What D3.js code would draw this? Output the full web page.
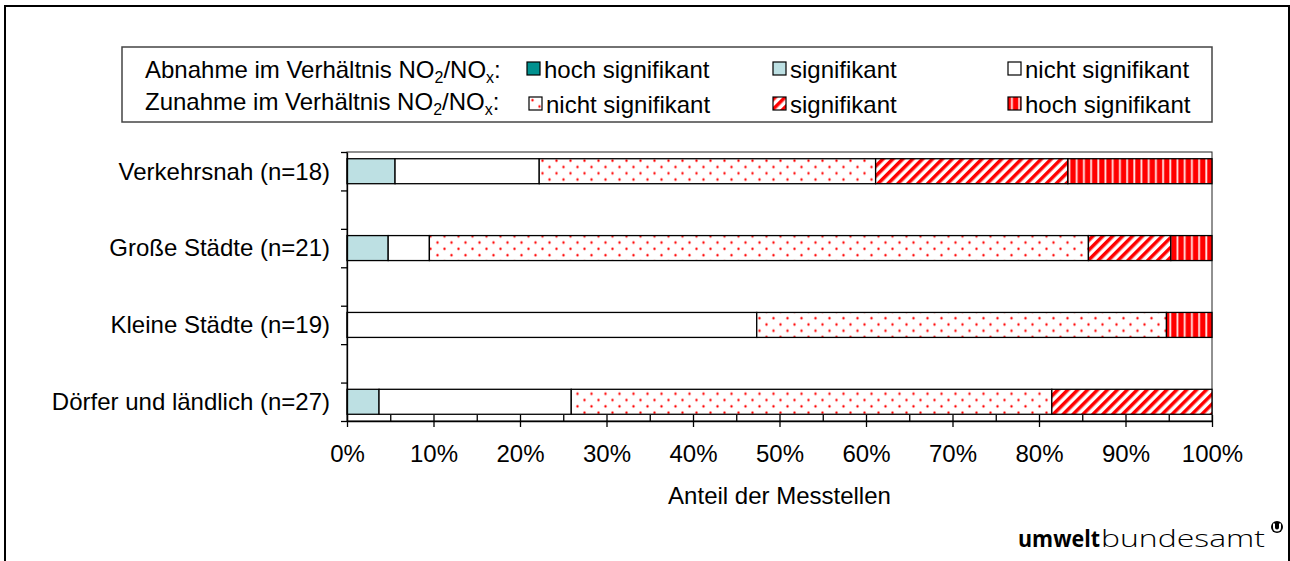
<!DOCTYPE html>
<html>
<head>
<meta charset="utf-8">
<script src="https://cdn.jsdelivr.net/npm/d3@7"></script>
<style>
    body { margin: 0; background: #fff; }
    svg text { font-family: "Liberation Sans", Arial, sans-serif; fill: #000; }
</style>
</head>
<body>
<svg id="chart" width="1290" height="561"></svg>
<script>
// Messstellen je Klasse, Reihenfolge wie in der Legende
const categories = ["Verkehrsnah (n=18)", "Große Städte (n=21)", "Kleine Städte (n=19)", "Dörfer und ländlich (n=27)"];
const abnahmeHoch = [0, 0, 0, 0];
const abnahmeSig = [1, 1, 0, 1];
const abnahmeNicht = [3, 1, 9, 6];
const zunahmeNicht = [7, 16, 9, 15];
const zunahmeSig = [4, 2, 0, 5];
const zunahmeHoch = [3, 1, 1, 0];
const keys = ["abnahmeHoch", "abnahmeSig", "abnahmeNicht", "zunahmeNicht", "zunahmeSig", "zunahmeHoch"];
const legendLabels = ["hoch signifikant", "signifikant", "nicht signifikant", "nicht signifikant", "signifikant", "hoch signifikant"];
const xTickValues = [0, 10, 20, 30, 40, 50, 60, 70, 80, 90, 100];
const xMinorTicks = [5, 15, 25, 35, 45, 55, 65, 75, 85, 95];

let svg = d3.select("#chart");
let plotLeft = 347, plotRight = 1212, plotTop = 152, plotBottom = 421;
let fontSize = 24;

// patterns
let defs = svg.append("defs");
let dots = defs.append("pattern").attr("id", "dots").attr("patternUnits", "userSpaceOnUse")
    .attr("width", 14).attr("height", 12.6);
dots.append("rect").attr("width", 14).attr("height", 12.6).attr("fill", "#fff");
[[3.5, 3.15], [10.5, 9.45]].forEach(p => {
    dots.append("circle").attr("cx", p[0]).attr("cy", p[1]).attr("r", 1.6).attr("fill", "#ffa0a0");
    dots.append("circle").attr("cx", p[0]).attr("cy", p[1]).attr("r", 0.9).attr("fill", "#ff0000");
});

let diag = defs.append("pattern").attr("id", "diag").attr("patternUnits", "userSpaceOnUse")
    .attr("width", 7).attr("height", 7).attr("patternTransform", "rotate(45)");
diag.append("rect").attr("width", 7).attr("height", 7).attr("fill", "#fff");
diag.append("rect").attr("width", 3.5).attr("height", 7).attr("fill", "#ff0000");

let vert = defs.append("pattern").attr("id", "vert").attr("patternUnits", "userSpaceOnUse")
    .attr("width", 7.2).attr("height", 7);
vert.append("rect").attr("width", 7.2).attr("height", 7).attr("fill", "#ff0000");
vert.append("rect").attr("x", 3).attr("width", 1.8).attr("height", 7).attr("fill", "#ffeaea");

const fills = ["#00918f", "#bde0e3", "#ffffff", "url(#dots)", "url(#diag)", "url(#vert)"];

// outer frame
svg.append("rect").attr("x", 5).attr("y", 6).attr("width", 1284).attr("height", 600)
    .attr("fill", "none").attr("stroke", "#000").attr("stroke-width", 2);

// data table
let table = categories.map((c, i) => ({
    cat: c, slot: 2 * i,
    abnahmeHoch: abnahmeHoch[i], abnahmeSig: abnahmeSig[i], abnahmeNicht: abnahmeNicht[i],
    zunahmeNicht: zunahmeNicht[i], zunahmeSig: zunahmeSig[i], zunahmeHoch: zunahmeHoch[i]
}));
let series = d3.stack().keys(keys).offset(d3.stackOffsetExpand)(table);

let x = d3.scaleLinear().domain([0, 1]).range([plotLeft, plotRight]);
let slots = d3.scaleBand().domain(d3.range(7)).range([plotTop, plotBottom]).paddingInner(0.35).paddingOuter(0.175);
let slotLine = d3.scaleLinear().domain([0, 7]).range([plotTop, plotBottom]);

// plot area border
svg.append("rect").attr("x", plotLeft).attr("y", plotTop).attr("width", plotRight - plotLeft).attr("height", plotBottom - plotTop)
    .attr("fill", "none").attr("stroke", "#222").attr("stroke-width", 1);

// bars
series.forEach((s, k) => {
    svg.append("g").selectAll("rect").data(s).join("rect")
        .attr("x", d => x(d[0]))
        .attr("y", d => slots(d.data.slot))
        .attr("width", d => x(d[1]) - x(d[0]))
        .attr("height", slots.bandwidth())
        .attr("fill", fills[k])
        .attr("stroke", d => d[1] > d[0] ? "#000" : "none")
        .attr("stroke-width", 1.3);
});

// y axis
svg.append("g").attr("transform", `translate(${plotLeft},0)`)
    .call(d3.axisLeft(slotLine).tickValues(d3.range(8)).tickFormat("").tickSize(6).tickSizeOuter(0))
    .call(g => g.selectAll("line,path").attr("stroke", "#000").attr("stroke-width", 1.3));

svg.append("g").selectAll("text").data(table).join("text")
    .attr("x", 330)
    .attr("y", d => slots(d.slot) + slots.bandwidth() / 2)
    .attr("dy", "0.35em")
    .attr("text-anchor", "end")
    .attr("font-size", fontSize)
    .text(d => d.cat);

// x axis
svg.append("g").attr("transform", `translate(0,${plotBottom})`)
    .call(d3.axisBottom(x).tickValues(xTickValues.map(v => v / 100)).tickFormat(d3.format(".0%"))
        .tickSize(6).tickPadding(18).tickSizeOuter(0))
    .call(g => g.selectAll("text").attr("font-size", fontSize).attr("font-family", null))
    .call(g => g.selectAll("line,path").attr("stroke", "#000").attr("stroke-width", 1.3));

svg.append("g").attr("transform", `translate(0,${plotBottom})`)
    .call(d3.axisBottom(x).tickValues(xTickValues.concat(xMinorTicks).map(v => v / 100)).tickFormat("")
        .tickSize(-6).tickSizeOuter(0))
    .call(g => g.select(".domain").remove())
    .call(g => g.selectAll("line").attr("stroke", "#000").attr("stroke-width", 1.3));

svg.append("text").attr("x", (plotLeft + plotRight) / 2).attr("y", 504)
    .attr("text-anchor", "middle").attr("font-size", fontSize)
    .text("Anteil der Messtellen");

// legend
svg.append("rect").attr("x", 122).attr("y", 47).attr("width", 1090).attr("height", 75)
    .attr("fill", "#fff").attr("stroke", "#444").attr("stroke-width", 1.5);

["Abnahme", "Zunahme"].forEach((w, r) => {
    let t = svg.append("text").attr("x", 145).attr("y", 78 + r * 32).attr("font-size", fontSize);
    t.append("tspan").text(w + " im Verhältnis NO");
    t.append("tspan").attr("font-size", 16).attr("dy", 5).text("2");
    t.append("tspan").attr("dy", -5).text("/NO");
    t.append("tspan").attr("font-size", 16).attr("dy", 5).text("x");
    t.append("tspan").attr("dy", -5).text(":");
});

const legendCols = [527, 773, 1008];
let legendItems = svg.append("g").selectAll("g").data(legendLabels).join("g")
    .attr("transform", (d, i) => {
        let r = Math.floor(i / 3), c = i % 3;
        return `translate(${legendCols[c] + (r === 1 && c === 0 ? 2 : 0)},${r === 0 ? 62 : 97})`;
    });
legendItems.append("rect").attr("width", 13).attr("height", 13)
    .attr("fill", (d, i) => fills[i]).attr("stroke", "#000").attr("stroke-width", 1.2);
legendItems.append("text").attr("x", 17).attr("y", 16).attr("font-size", fontSize).text(d => d);

// logo
svg.append("text").attr("x", 1018).attr("y", 547)
    .attr("font-size", 23).attr("font-weight", 700).style("font-family", "'Open Sans', sans-serif")
    .attr("textLength", 82).attr("lengthAdjust", "spacingAndGlyphs")
    .text("umwelt");
svg.append("text").attr("x", 1101).attr("y", 547)
    .attr("font-size", 23).attr("font-weight", 300).style("font-family", "'Open Sans', sans-serif")
    .attr("textLength", 164).attr("lengthAdjust", "spacingAndGlyphs")
    .text("bundesamt");
svg.append("circle").attr("cx", 1277).attr("cy", 527).attr("r", 6).attr("fill", "#000");
svg.append("path").attr("d", "M1274,523.5 v4 a3,3 0 0 0 6,0 v-4")
    .attr("fill", "none").attr("stroke", "#fff").attr("stroke-width", 2);
</script>
</body>
</html>
